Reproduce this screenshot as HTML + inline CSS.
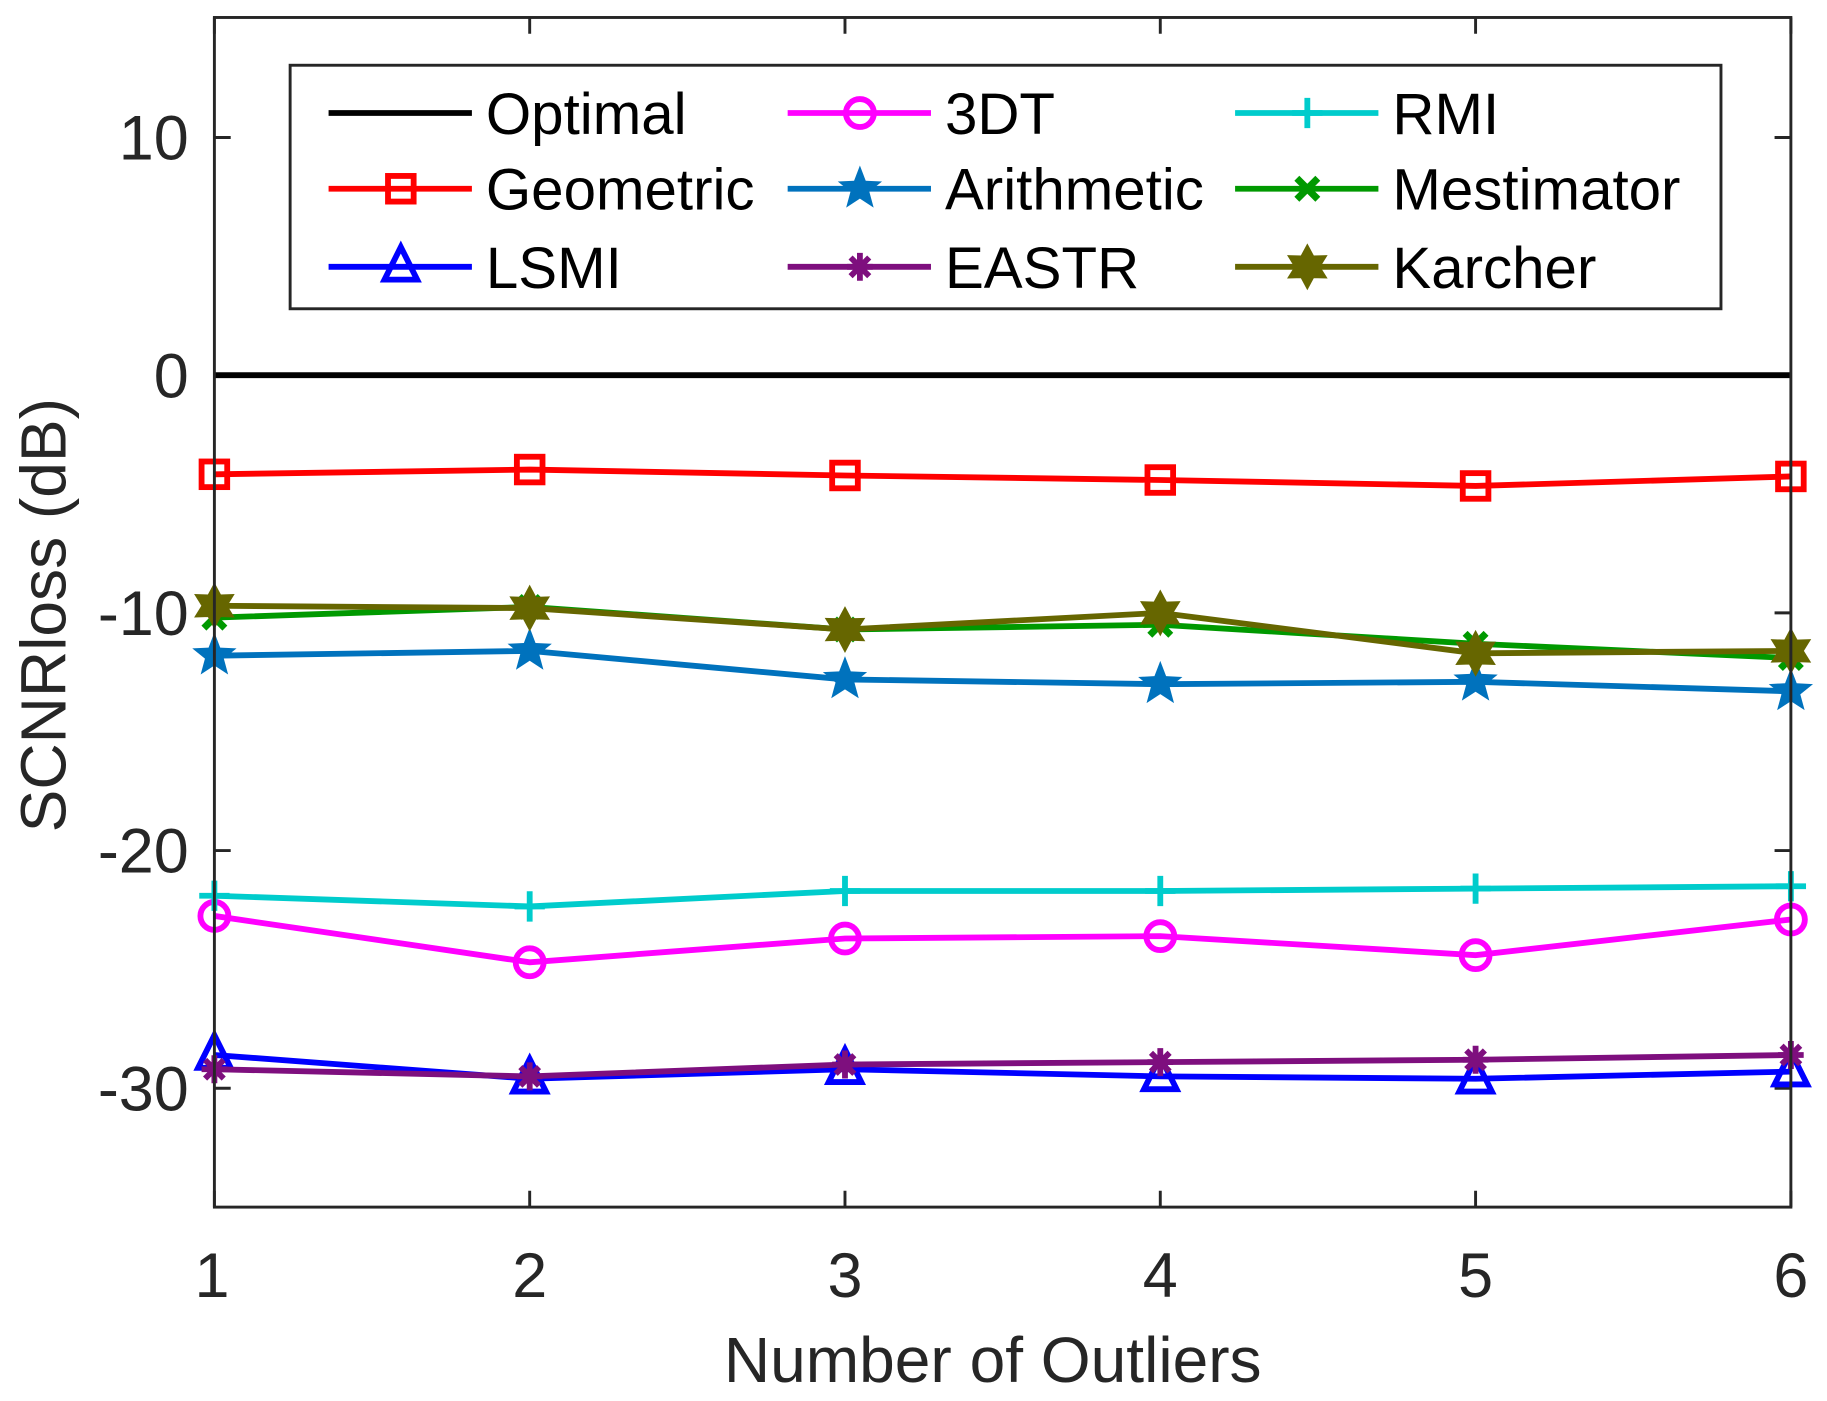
<!DOCTYPE html>
<html><head><meta charset="utf-8"><style>html,body{margin:0;padding:0;background:#fff}svg{display:block}</style></head>
<body>
<svg id="s" width="1827" height="1401" viewBox="0 0 1568 1202.4" preserveAspectRatio="none" xmlns="http://www.w3.org/2000/svg" font-family="Liberation Sans, Arial, sans-serif">
<rect x="0" y="0" width="1568" height="1203" fill="#fff"/>
<g id="plot"></g>
<g id="axes" stroke="#262626" stroke-width="2.5" fill="none">
<rect x="184" y="15" width="1353" height="1021"/>
</g>
<g font-size="54" fill="#262626" text-anchor="end">
<text x="162" y="137">10</text>
<text x="162" y="341">0</text>
<text x="162" y="545">-10</text>
<text x="162" y="749">-20</text>
<text x="162" y="953">-30</text>
</g>
<g font-size="54" fill="#262626" text-anchor="middle">
<text x="182" y="1113">1</text>
<text x="454.6" y="1113">2</text>
<text x="725.2" y="1113">3</text>
<text x="995.8" y="1113">4</text>
<text x="1266.4" y="1113">5</text>
<text x="1537" y="1113">6</text>
<text x="852" y="1186" font-size="55">Number of Outliers</text>
<text transform="translate(56,528) rotate(-90)" font-size="55">SCNRloss (dB)</text>
</g>
<g id="leg"></g>
</svg>
<script>
const X=i=>184+i*270.6, Y=v=>322-v*20.4;
const ser=[
["Optimal","#000",null,[0,0,0,0,0,0]],
["Geometric","#ff0000","sq",[-4.17,-3.97,-4.22,-4.41,-4.66,-4.26]],
["LSMI","#0000ff","tri",[-28.6,-29.6,-29.2,-29.5,-29.6,-29.3]],
["3DT","#ff00ff","circ",[-22.75,-24.7,-23.7,-23.6,-24.4,-22.9]],
["Arithmetic","#0072bd","star",[-11.8,-11.6,-12.8,-13.0,-12.9,-13.3]],
["EASTR","#7e0f7e","ast",[-29.2,-29.5,-29.0,-28.9,-28.8,-28.6]],
["RMI","#00cccc","plus",[-21.9,-22.35,-21.7,-21.7,-21.6,-21.5]],
["Mestimator","#009900","x",[-10.2,-9.75,-10.7,-10.5,-11.3,-11.9]],
["Karcher","#666600","hex",[-9.7,-9.8,-10.7,-10.0,-11.7,-11.6]]
];
function star(cx,cy,n,ro,ri){let p=[];for(let k=0;k<2*n;k++){const r=k%2?ri:ro,a=-Math.PI/2+k*Math.PI/n;p.push((cx+r*Math.cos(a)).toFixed(1)+","+(cy+r*Math.sin(a)).toFixed(1));}return p.join(" ");}
function mk(t,x,y,c){
 switch(t){
 case"sq":return `<rect x="${x-11}" y="${y-11}" width="22" height="22" fill="none" stroke="${c}" stroke-width="5"/>`;
 case"circ":return `<circle cx="${x}" cy="${y}" r="12" fill="none" stroke="${c}" stroke-width="5"/>`;
 case"tri":return `<polygon points="${x},${y-17} ${x+14},${y+11} ${x-14},${y+11}" fill="none" stroke="${c}" stroke-width="5"/>`;
 case"star":return `<polygon points="${star(x,y,5,20,8.5)}" fill="${c}"/>`;
 case"hex":return `<polygon points="${star(x,y,6,18,10)}" fill="${c}" stroke="${c}" stroke-width="2"/>`;
 case"plus":return `<path d="M${x-13} ${y}H${x+13}M${x} ${y-13}V${y+13}" stroke="${c}" stroke-width="5"/>`;
 case"x":return `<path d="M${x-9} ${y-9}L${x+9} ${y+9}M${x+9} ${y-9}L${x-9} ${y+9}" stroke="${c}" stroke-width="6"/>`;
 case"ast":return `<path d="M${x-11} ${y}H${x+11}M${x} ${y-12}V${y+12}M${x-8} ${y-8}L${x+8} ${y+8}M${x+8} ${y-8}L${x-8} ${y+8}" stroke="${c}" stroke-width="5"/>`;
 }return"";}
let h="";
let tk="";
for(let i=0;i<6;i++){tk+=`<path d="M${X(i)} 1036V1022M${X(i)} 15V29" stroke="#262626" stroke-width="2.5"/>`;}
for(const v of [10,0,-10,-20,-30]){tk+=`<path d="M184 ${Y(v)}H198M1537 ${Y(v)}H1523" stroke="#262626" stroke-width="2.5"/>`;}
h+=tk;
for(const [n,c,m,d] of ser){
 h+=`<polyline points="${d.map((v,i)=>X(i)+","+Y(v)).join(" ")}" fill="none" stroke="${c}" stroke-width="5"/>`;
 if(m) d.forEach((v,i)=>h+=mk(m,X(i),Y(v),c));
}
document.getElementById("plot").innerHTML=h;
let l=`<rect x="249" y="56" width="1228" height="209" fill="#fff" stroke="#262626" stroke-width="2.5"/>`;
const cols=[[282,417],[676,811],[1060,1195]],rows=[97,162,229];
ser.forEach((s,k)=>{const col=Math.floor(k/3),row=k%3;const [lx,tx]=cols[col],y=rows[row];
 l+=`<line x1="${lx}" y1="${y}" x2="${lx+123}" y2="${y}" stroke="${s[1]}" stroke-width="5"/>`;
 if(s[2]) l+=mk(s[2],lx+62,y,s[1]);
 l+=`<text x="${tx}" y="${y+18}" font-size="50" fill="#000">${s[0]}</text>`;});
document.getElementById("leg").innerHTML=l;
</script>
</body></html>
